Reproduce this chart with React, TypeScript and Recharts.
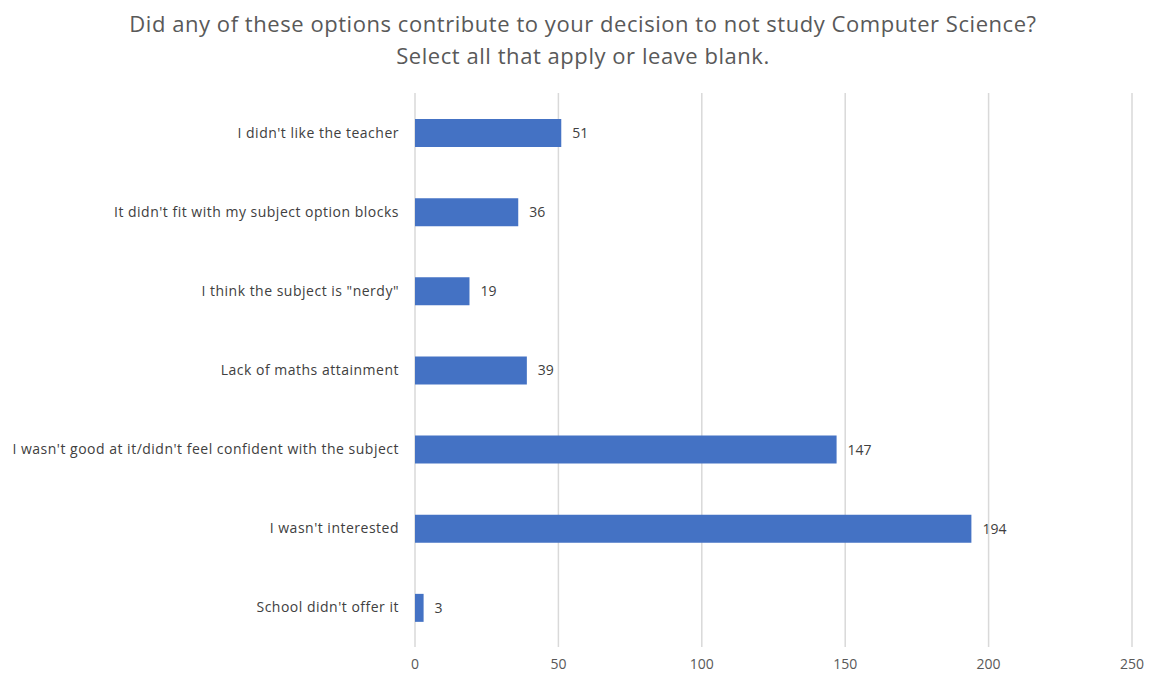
import React from 'react';
import { BarChart, Bar, XAxis, YAxis, CartesianGrid, LabelList } from 'recharts';

const reasons = [
  "I didn't like the teacher",
  "It didn't fit with my subject option blocks",
  'I think the subject is "nerdy"',
  'Lack of maths attainment',
  "I wasn't good at it/didn't feel confident with the subject",
  "I wasn't interested",
  "School didn't offer it",
];
const counts = [51, 36, 19, 39, 147, 194, 3];
const xTicks = [0, 50, 100, 150, 200, 250];

const data = reasons.map((reason, i) => ({ reason, count: counts[i] }));

const FONT = '"Open Sans", Lato, sans-serif';

const App: React.FC = () => {
  return (
    <div style={{ position: 'absolute', left: 0, top: 0, width: 1156, height: 677, background: '#fff', fontFamily: FONT }}>
      <div
        style={{
          position: 'absolute',
          top: 7,
          left: 0,
          width: 1166,
          textAlign: 'center',
          fontSize: 22,
          letterSpacing: '0.55px',
          lineHeight: '32px',
          color: '#595959',
        }}
      >
        Did any of these options contribute to your decision to not study Computer Science?
        <br />
        Select all that apply or leave blank.
      </div>
      <BarChart
        width={1156}
        height={677}
        data={data}
        layout="vertical"
        margin={{ top: 93, right: 24, bottom: 0, left: 0 }}
      >
        <CartesianGrid horizontal={false} stroke="#d9d9d9" strokeWidth={1.5} />
        <XAxis
          type="number"
          domain={[0, 250]}
          ticks={xTicks}
          axisLine={false}
          tickLine={false}
          height={30}
          tickMargin={6}
          tick={{ fill: '#595959', fontSize: 14, fontFamily: FONT }}
        />
        <YAxis
          type="category"
          dataKey="reason"
          width={415}
          axisLine={false}
          tickLine={false}
          tickMargin={10}
          interval={0}
          tick={{ fill: '#404040', fontSize: 14, fontFamily: FONT, letterSpacing: '0.5px' }}
        />
        <Bar dataKey="count" fill="#4472c4" barSize={28} isAnimationActive={false}>
          <LabelList dataKey="count" position="right" offset={11} fill="#404040" fontSize={14} fontFamily={FONT} />
        </Bar>
      </BarChart>
    </div>
  );
};

export default App;
